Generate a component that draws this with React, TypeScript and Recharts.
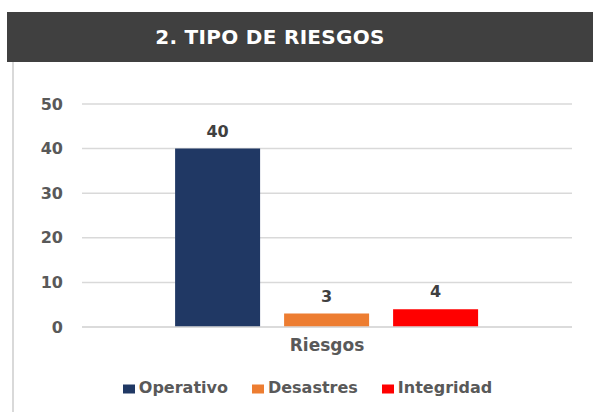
import { BarChart, Bar, XAxis, YAxis, CartesianGrid, Legend, LabelList } from "recharts";

const categories = ["Riesgos"];
const operativo = [40];
const desastres = [3];
const integridad = [4];
const yTicks = [0, 10, 20, 30, 40, 50];

const series = [
  { key: "Operativo", values: operativo, color: "#203864" },
  { key: "Desastres", values: desastres, color: "#ED7D31" },
  { key: "Integridad", values: integridad, color: "#FF0000" },
];

const data = categories.map((name, i) => {
  const row: Record<string, string | number> = { name };
  series.forEach((s) => (row[s.key] = s.values[i]));
  return row;
});

const FONT = "'DejaVu Sans', 'Liberation Sans', Arial, sans-serif";
const order = (v: unknown) => series.findIndex((s) => s.key === v);

export default function App() {
  return (
    <div style={{ position: "absolute", left: 0, top: 0, width: 593, height: 412, background: "#fff", fontFamily: FONT, overflow: "hidden" }}>
      <div style={{ position: "absolute", left: 12, top: 62, width: 1.5, height: 350, background: "#d9d9d9" }} />
      <div style={{ position: "absolute", left: 7, top: 12, width: 586, height: 50, background: "#404040" }} />
      <div
        style={{
          position: "absolute", left: 0, top: 12, width: 540, height: 50, lineHeight: "50px",
          textAlign: "center", color: "#fff", fontWeight: "bold", fontSize: 20, letterSpacing: 0.3,
        }}
      >
        2. TIPO DE RIESGOS
      </div>
      <div style={{ position: "absolute", left: 0, top: 0 }}>
        <BarChart width={593} height={412} data={data} margin={{ top: 104, right: 21, left: 0, bottom: 55 }} barCategoryGap="19%" barGap={24}>
          <CartesianGrid vertical={false} stroke="#d9d9d9" strokeWidth={1.5} />
          <XAxis
            dataKey="name"
            axisLine={{ stroke: "#d9d9d9", strokeWidth: 1.5 }}
            tickLine={false}
            tickSize={0}
            tickMargin={12}
            tick={{ fill: "#595959", fontSize: 17, fontWeight: "bold", fontFamily: FONT }}
          />
          <YAxis
            width={82}
            domain={[0, 50]}
            ticks={yTicks}
            axisLine={false}
            tickLine={false}
            tickSize={0}
            tickMargin={19}
            tick={{ fill: "#595959", fontSize: 16, fontWeight: "bold", fontFamily: FONT }}
          />
          <Legend
            verticalAlign="middle"
            align="center"
            iconType="rect"
            iconSize={12}
            itemSorter={(item: { value?: unknown }) => order(item.value)}
            wrapperStyle={{ top: 378, left: 16, width: 593 }}
            formatter={(value: string) => (
              <span style={{ color: "#595959", fontSize: 16, fontWeight: "bold", fontFamily: FONT, paddingRight: order(value) < series.length - 1 ? 14 : 0 }}>
                {value}
              </span>
            )}
          />
          {series.map((s) => (
            <Bar key={s.key} dataKey={s.key} fill={s.color} isAnimationActive={false}>
              <LabelList dataKey={s.key} position="top" offset={12} fill="#404040" fontSize={16} fontWeight="bold" fontFamily={FONT} />
            </Bar>
          ))}
        </BarChart>
      </div>
    </div>
  );
}
